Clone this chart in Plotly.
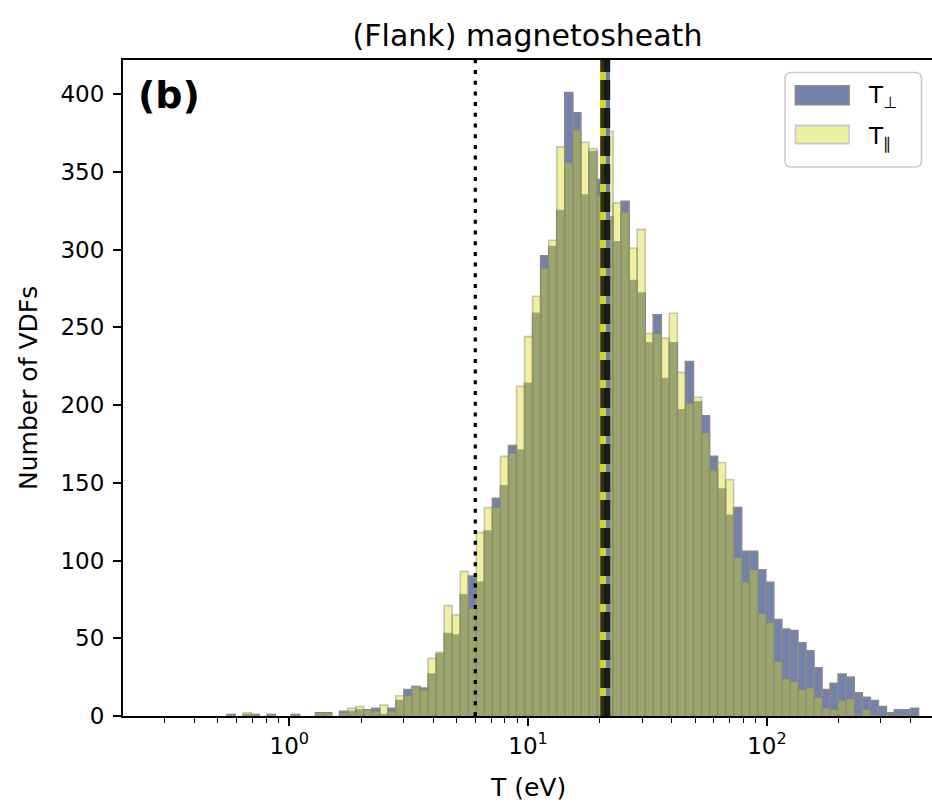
import numpy as np
import plotly.graph_objects as go

# ---------------- data ----------------
# log-spaced bin edges (eV)
BIN_EDGES = np.logspace(-0.2605, 2.6351, 87)

# counts per bin, T_perp (blue) and T_par (yellow)
T_PERP = [1, 0, 1, 1, 0, 1, 0, 0, 1, 0, 0, 2, 2, 0, 3, 3, 4, 4, 5, 1,
          5, 10, 17, 19, 18, 27, 40, 53, 52, 78, 90, 86, 119, 140, 148, 174, 171, 214, 259, 296,
          302, 325, 401, 388, 335, 363, 345, 321, 305, 331, 280, 272, 240, 258, 217, 240, 197, 228, 202, 193,
          167, 146, 129, 134, 106, 106, 94, 86, 62, 56, 55, 47, 42, 31, 17, 21, 27, 25, 15, 12,
          10, 6, 2, 4, 4, 5]
T_PAR = [1, 0, 2, 1, 0, 1, 0, 0, 1, 0, 0, 2, 2, 0, 2, 5, 6, 4, 3, 7,
         3, 13, 13, 19, 17, 37, 41, 71, 65, 93, 69, 118, 134, 134, 167, 169, 212, 244, 270, 288,
         306, 366, 356, 377, 369, 365, 335, 376, 330, 324, 301, 313, 246, 246, 243, 259, 221, 201, 205, 182,
         158, 163, 152, 102, 86, 94, 66, 60, 35, 24, 22, 17, 18, 12, 5, 4, 10, 11, 0, 4,
         1, 0, 0, 0, 0, 0]

MEDIAN_PERP = 21.5
MEDIAN_PAR = 20.6
THRESHOLD = 6.01

X_TICKS = [1, 10, 100]
X_TICK_TEXT = ["10<sup>0</sup>", "10<sup>1</sup>", "10<sup>2</sup>"]
Y_TICKS = [0, 50, 100, 150, 200, 250, 300, 350, 400]

TITLE = "(Flank) magnetosheath"
PANEL = "(b)"
XLABEL = "T (eV)"
YLABEL = "Number of VDFs"

# ---------------- layout constants ----------------
W, H = 932, 802
L, R, T, B = 123, 0, 60, 86
PW, PH = W - L - R, H - T - B
XR = [-0.6964, 2.6914]
YR = [0, 421.9]
FONT = "DejaVu Sans"
FS = 23


def bar_path(edges, counts):
    xs, ys = [], []
    for i, c in enumerate(counts):
        if c <= 0:
            continue
        l, r = edges[i], edges[i + 1]
        xs += [l, l, r, r, l, None]
        ys += [0, c, c, 0, 0, None]
    return xs, ys


fig = go.Figure()

xb, yb = bar_path(BIN_EDGES, T_PERP)
fig.add_trace(go.Scatter(x=xb, y=yb, mode="lines", fill="toself",
                         fillcolor="rgb(114,130,172)",
                         line=dict(color="rgb(138,138,138)", width=1.6),
                         showlegend=False, hoverinfo="skip"))
xy, yy = bar_path(BIN_EDGES, T_PAR)
fig.add_trace(go.Scatter(x=xy, y=yy, mode="lines", fill="toself",
                         fillcolor="rgba(217,217,18,0.4)",
                         line=dict(color="rgba(128,128,128,0.42)", width=1.6),
                         showlegend=False, hoverinfo="skip"))

# threshold (dotted)
fig.add_trace(go.Scatter(x=[THRESHOLD, THRESHOLD], y=[0, YR[1]], mode="lines",
                         line=dict(color="black", width=3.3, dash="4px,6.7px"),
                         showlegend=False, hoverinfo="skip"))
# medians: coloured lines with black dashes on top
fig.add_trace(go.Scatter(x=[MEDIAN_PERP, MEDIAN_PERP], y=[0, YR[1]], mode="lines",
                         line=dict(color="rgb(104,126,166)", width=5),
                         showlegend=False, hoverinfo="skip"))
fig.add_trace(go.Scatter(x=[MEDIAN_PAR, MEDIAN_PAR], y=[0, YR[1]], mode="lines",
                         line=dict(color="rgb(212,212,44)", width=6),
                         showlegend=False, hoverinfo="skip"))
for v in (MEDIAN_PERP, MEDIAN_PAR):
    fig.add_trace(go.Scatter(x=[v, v], y=[0, YR[1]], mode="lines", opacity=0.78,
                             line=dict(color="black", width=5.5, dash="20px,8px"),
                             showlegend=False, hoverinfo="skip"))

minor_vals = [m * 10.0 ** k for k in range(-1, 3) for m in range(2, 10)
              if 10 ** XR[0] < m * 10.0 ** k < 10 ** XR[1]]

fig.update_layout(
    width=W, height=H,
    margin=dict(l=L, r=R, t=T, b=B, pad=0),
    paper_bgcolor="white", plot_bgcolor="white",
    font=dict(family=FONT, size=FS, color="black"),
    title=dict(text=TITLE, x=(L + PW / 2) / W, xanchor="center",
               y=1 - 35 / H, yanchor="middle", font=dict(size=30)),
    xaxis=dict(type="log", range=XR, showgrid=False, zeroline=False,
               showline=True, linecolor="black", linewidth=2, mirror=True,
               ticks="outside", ticklen=8, tickwidth=1.8, tickcolor="black",
               tickmode="array", tickvals=X_TICKS, ticktext=X_TICK_TEXT,
               tickfont=dict(size=FS),
               minor=dict(ticks="outside", ticklen=4.5, tickwidth=1.4,
                          tickcolor="black", tickmode="array", tickvals=minor_vals,
                          showgrid=False)),
    yaxis=dict(range=YR, showgrid=False, zeroline=False,
               showline=True, linecolor="black", linewidth=2, mirror=False,
               ticks="outside", ticklen=8, tickwidth=1.8, tickcolor="black",
               tickmode="array", tickvals=Y_TICKS, tickfont=dict(size=FS),
               ticklabelstandoff=4),
)


def px(xp):
    return (xp - L) / PW


def py(yp):
    return (H - B - yp) / PH


# axis labels
fig.add_annotation(text=XLABEL, xref="paper", yref="paper", x=px(528), y=py(787),
                   xanchor="center", yanchor="middle", showarrow=False,
                   font=dict(size=25))
fig.add_annotation(text=YLABEL, xref="paper", yref="paper", x=px(28), y=py(388),
                   xanchor="center", yanchor="middle", showarrow=False, textangle=-90,
                   font=dict(size=25))
# panel label
fig.add_annotation(text="<b>" + PANEL + "</b>", xref="paper", yref="paper",
                   x=px(136), y=py(95), xanchor="left", yanchor="middle",
                   showarrow=False, font=dict(size=38))

# legend (manual)
bx0, bx1, by0, by1, rr = 785, 921.5, 72.5, 167, 6
rx, ry = rr / PW, rr / PH
X0, X1, Y0, Y1 = px(bx0), px(bx1), py(by1), py(by0)
path = (f"M {X0+rx},{Y0} L {X1-rx},{Y0} Q {X1},{Y0} {X1},{Y0+ry} "
        f"L {X1},{Y1-ry} Q {X1},{Y1} {X1-rx},{Y1} L {X0+rx},{Y1} "
        f"Q {X0},{Y1} {X0},{Y1-ry} L {X0},{Y0+ry} Q {X0},{Y0} {X0+rx},{Y0} Z")
fig.add_shape(type="path", path=path, xref="paper", yref="paper",
              fillcolor="rgba(255,255,255,0.8)", line=dict(color="rgb(204,204,204)", width=1.6))
fig.add_shape(type="rect", xref="paper", yref="paper", x0=px(795.5), x1=px(849), y0=py(104.5), y1=py(86),
              fillcolor="rgb(114,130,172)", line=dict(color="rgb(138,138,138)", width=1.8))
fig.add_shape(type="rect", xref="paper", yref="paper", x0=px(795.5), x1=px(849), y0=py(143.5), y1=py(125.5),
              fillcolor="rgb(240,240,160)", line=dict(color="rgb(204,204,204)", width=1.8))
fig.add_annotation(text="T<sub>⊥</sub>", xref="paper", yref="paper", x=px(866), y=py(97),
                   xanchor="left", yanchor="middle", showarrow=False, font=dict(size=FS))
fig.add_annotation(text="T<sub>∥</sub>", xref="paper", yref="paper", x=px(866), y=py(138),
                   xanchor="left", yanchor="middle", showarrow=False, font=dict(size=FS))

fig.write_html("out.html")
